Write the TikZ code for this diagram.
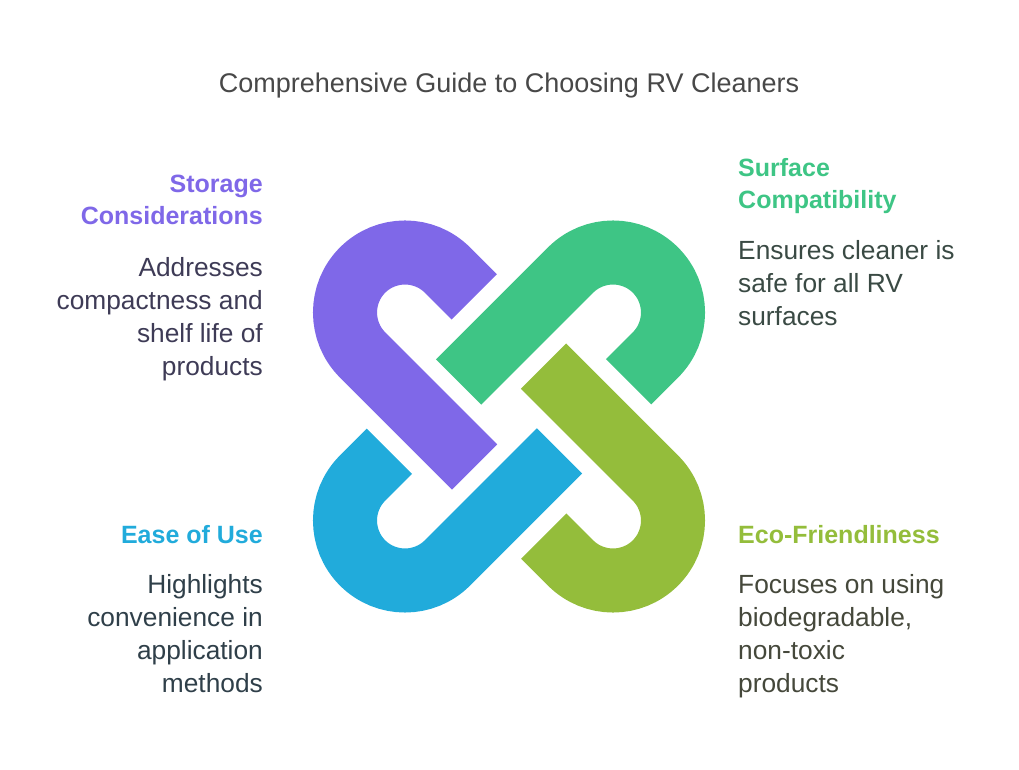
\documentclass[tikz,border=0pt]{standalone}
\usepackage{fontspec}
\setmainfont{Liberation Sans}
\usepackage{tikz}

\definecolor{titlegray}{HTML}{484848}
\definecolor{storagecol}{HTML}{7F68E8}
\definecolor{surfacecol}{HTML}{3EC585}
\definecolor{easecol}{HTML}{21ABDB}
\definecolor{ecocol}{HTML}{94BD3B}
\definecolor{storagetext}{HTML}{3E3B56}
\definecolor{surfacetext}{HTML}{3A4A44}
\definecolor{easetext}{HTML}{2F3F49}
\definecolor{ecotext}{HTML}{45483B}

\begin{document}
\begin{tikzpicture}[x=1pt,y=1pt,
        hook/.style={line width=64pt},
        head/.style={inner sep=0pt,font=\bfseries\fontsize{25}{32.5}\selectfont},
        body/.style={inner sep=0pt,font=\fontsize{26.3}{33}\selectfont}]

    \useasboundingbox (0,0) rectangle (1019,769);

    % Title
    \node[inner sep=0pt,anchor=base,text=titlegray,font=\fontsize{27}{32}\selectfont] (title) at (509,676) {Comprehensive Guide to Choosing RV Cleaners};

    % Hooks around the centre
    \begin{scope}[shift={(509,352.5)}]
    \draw[hook,storagecol] (-34.7,119.56) -- (-61.57,146.43) arc[start angle=45,end angle=225,radius=60] -- (-34.43,-50.43);
    \draw[hook,surfacecol,rotate=-90] (-34.7,119.56) -- (-61.57,146.43) arc[start angle=45,end angle=225,radius=60] -- (-34.43,-50.43);
    \draw[hook,ecocol,rotate=-180] (-34.7,119.56) -- (-61.57,146.43) arc[start angle=45,end angle=225,radius=60] -- (-34.43,-50.43);
    \draw[hook,easecol,rotate=90] (-34.7,119.56) -- (-61.57,146.43) arc[start angle=45,end angle=225,radius=60] -- (-34.43,-50.43);
    \end{scope}

    % Top left (anchored at the last line)
    \node[head,anchor=base east,align=right,text=storagecol] (storagehead) at (263,544) {Storage\\Considerations};
    \node[body,anchor=base east,align=right,text=storagetext] (storagebody) at (263,393) {Addresses\\compactness and\\shelf life of\\products};

    % Top right
    \node[head,anchor=base west,align=left,text=surfacecol] (surfacehead) at (738,560) {Surface\\Compatibility};
    \node[body,anchor=base west,align=left,text=surfacetext] (surfacebody) at (738,443) {Ensures cleaner is\\safe for all RV\\surfaces};

    % Bottom left
    \node[head,anchor=base east,align=right,text=easecol] (easehead) at (263,226) {Ease of Use};
    \node[body,anchor=base east,align=right,text=easetext] (easebody) at (263,77) {Highlights\\convenience in\\application\\methods};

    % Bottom right
    \node[head,anchor=base west,align=left,text=ecocol] (ecohead) at (738,226) {Eco-Friendliness};
    \node[body,anchor=base west,align=left,text=ecotext] (ecobody) at (738,77) {Focuses on using\\biodegradable,\\non-toxic\\products};
\end{tikzpicture}
\end{document}
